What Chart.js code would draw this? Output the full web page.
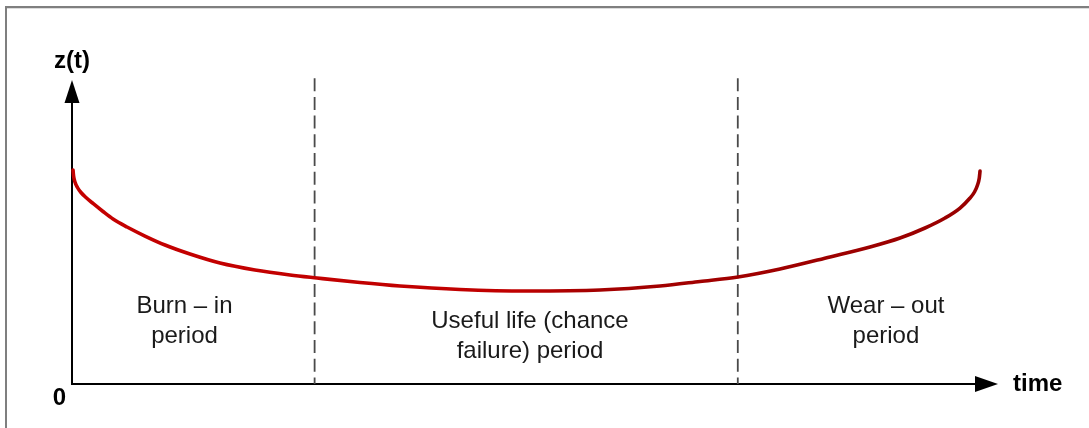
<!DOCTYPE html>
<html>
<head>
<meta charset="utf-8">
<script src="https://cdn.jsdelivr.net/npm/chart.js@4/dist/chart.umd.min.js"></script>
<style>
  html, body { margin: 0; padding: 0; background: #ffffff; }
  #wrap { position: relative; width: 1089px; height: 428px; overflow: hidden; }
  #frame { position: absolute; left: 5px; top: 6px; width: 1200px; height: 600px;
           border-top: 2px solid #7f7f7f; border-left: 2px solid #7f7f7f;
           box-shadow: inset 0 1px 0 #dcdcdc; }
  canvas { position: absolute; left: 0; top: 0; }
</style>
</head>
<body>
<div id="wrap">
  <div id="frame"></div>
  <canvas id="c" width="1089" height="428"></canvas>
</div>
<script>
// ---- data ----
const timePoints   = [0.11, 0.17, 0.32, 0.59, 0.97, 1.51, 2.27, 3.35, 4.43, 5.94, 7.88, 10.04, 12.74, 15.98, 19.76, 23.54, 26.46, 31.10, 35.42, 41.90, 49.14, 57.02, 63.50, 67.82, 71.92, 76.46, 81.86, 86.18, 89.42, 92.12, 94.28, 95.90, 96.98, 97.46, 97.79, 97.98, 98.06];
const hazardValues = [70.39, 68.42, 66.45, 64.64, 62.99, 61.35, 59.38, 56.74, 54.28, 51.64, 48.68, 45.72, 42.76, 39.80, 37.50, 35.86, 34.87, 33.39, 32.24, 31.09, 30.59, 30.92, 32.24, 33.72, 35.20, 37.83, 41.78, 45.07, 48.03, 51.32, 54.61, 57.89, 61.18, 63.16, 65.46, 67.76, 70.07];
const phaseBoundaries = [26.2, 71.9];
const boundaryTop = 100.6;
const phaseLabels = [["Burn \u2013 in", "period"], ["Useful life (chance", "failure) period"], ["Wear \u2013 out", "period"]];
const phaseLabelX = [12.15, 49.46, 87.9];
const phaseLabelY = [23.4, 18.4, 23.4];
const yAxisTitle = "z(t)";
const xAxisTitle = "time";
const originLabel = "0";

const curveData = timePoints.map((t, i) => ({ x: t, y: hazardValues[i] }));
const boundaryDatasets = phaseBoundaries.map(b => ({
  data: [{ x: b, y: boundaryTop }, { x: b, y: 0 }],
  borderColor: '#4a4a4a',
  borderWidth: 1.8,
  borderDash: [13, 5.7],
  pointRadius: 0,
  tension: 0,
  clip: false,
  order: 2
}));

const axesPlugin = {
  id: 'axesPlugin',
  beforeDatasetsDraw(chart) {
    const c = chart.ctx;
    const xs = chart.scales.x, ys = chart.scales.y;
    const x0 = xs.getPixelForValue(0), y0 = ys.getPixelForValue(0);
    const xEnd = xs.getPixelForValue(xs.max), yEnd = ys.getPixelForValue(ys.max);
    c.save();
    c.strokeStyle = '#000'; c.fillStyle = '#000'; c.lineWidth = 2;
    c.beginPath();
    c.moveTo(x0, y0); c.lineTo(x0, yEnd + 10);
    c.moveTo(x0 - 1, y0); c.lineTo(xEnd - 10, y0);
    c.stroke();
    // arrowheads
    c.beginPath();
    c.moveTo(x0, yEnd); c.lineTo(x0 - 7.5, yEnd + 23); c.lineTo(x0 + 7.5, yEnd + 23); c.closePath();
    c.fill();
    c.beginPath();
    c.moveTo(xEnd, y0); c.lineTo(xEnd - 23, y0 - 8); c.lineTo(xEnd - 23, y0 + 8); c.closePath();
    c.fill();
    // axis titles
    c.font = 'bold 24px "Liberation Sans", Arial, sans-serif';
    c.textBaseline = 'alphabetic';
    c.textAlign = 'center';
    c.fillText(yAxisTitle, x0, yEnd - 12);
    c.fillText(originLabel, x0 - 12.5, y0 + 21);
    c.textAlign = 'left';
    c.fillText(xAxisTitle, xEnd + 15, y0 + 7);
    c.restore();
  },
  afterDatasetsDraw(chart) {
    const c = chart.ctx;
    const xs = chart.scales.x, ys = chart.scales.y;
    c.save();
    c.font = '24px "Liberation Sans", Arial, sans-serif';
    c.fillStyle = '#1a1a1a';
    c.textAlign = 'center';
    c.textBaseline = 'alphabetic';
    phaseLabels.forEach((lines, i) => {
      const px = xs.getPixelForValue(phaseLabelX[i]);
      const py = ys.getPixelForValue(phaseLabelY[i]);
      lines.forEach((ln, j) => c.fillText(ln, px, py + j * 30));
    });
    c.restore();
  }
};

new Chart(document.getElementById('c'), {
  type: 'line',
  data: {
    datasets: [
      {
        data: curveData,
        borderColor: (ctx) => {
          const ch = ctx.chart; const area = ch.chartArea;
          if (!area) return '#b00000';
          const g = ch.ctx.createLinearGradient(area.left, 0, area.right, 0);
          g.addColorStop(0, '#c40000');
          g.addColorStop(0.48, '#c00000');
          g.addColorStop(0.56, '#a40000');
          g.addColorStop(1, '#980000');
          return g;
        },
        borderWidth: 3.6,
        borderCapStyle: 'round',
        borderJoinStyle: 'round',
        pointRadius: 0,
        cubicInterpolationMode: 'monotone',
        clip: false,
        order: 1
      },
      ...boundaryDatasets
    ]
  },
  options: {
    responsive: false,
    animation: false,
    devicePixelRatio: 1,
    layout: { padding: { left: 72, top: 80, right: 91, bottom: 44 } },
    plugins: { legend: { display: false }, tooltip: { enabled: false } },
    scales: {
      x: { type: 'linear', min: 0, max: 100, display: false },
      y: { type: 'linear', min: 0, max: 100, display: false }
    }
  },
  plugins: [axesPlugin]
});
</script>
</body>
</html>
